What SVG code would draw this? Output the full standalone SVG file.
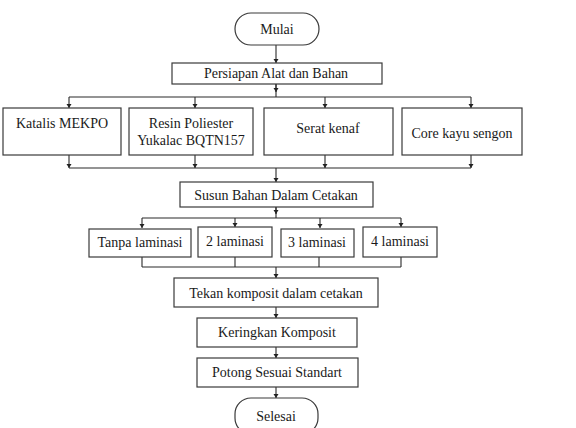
<svg xmlns="http://www.w3.org/2000/svg" width="576" height="428" viewBox="0 0 576 428">
<defs>
<marker id="ah" viewBox="0 0 8 10" refX="8" refY="5" markerWidth="4.5" markerHeight="5.5" orient="auto" markerUnits="userSpaceOnUse">
<path d="M0,0 L8,5 L0,10 z" fill="#222"/>
</marker>
<style>
.b{fill:#fff;stroke:#3a3a3a;stroke-width:1.2}
.t{font-family:"Liberation Serif","Times New Roman",serif;font-size:14px;fill:#1a1a1a;text-anchor:middle}
.c{fill:none;stroke:#2a2a2a;stroke-width:1.1}
.a{marker-end:url(#ah)}
</style>
</defs>
<rect width="576" height="428" fill="#fff"/>
<g id="connectors">
<path class="c a" d="M276,45 V63"/>
<path class="c" d="M276,84 V97"/>
<path class="c a" d="M276,84 V92"/>
<path class="c" d="M69,97 H471"/>
<path class="c a" d="M69,97 V108"/>
<path class="c a" d="M195,97 V108"/>
<path class="c a" d="M325,97 V108"/>
<path class="c a" d="M471,97 V108"/>
<path class="c a" d="M69,155 V168"/>
<path class="c a" d="M195,155 V168"/>
<path class="c a" d="M325,155 V168"/>
<path class="c a" d="M471,155 V168"/>
<path class="c" d="M69,168 H471"/>
<path class="c a" d="M276,168 V182"/>
<path class="c" d="M276,207 V218"/>
<path class="c a" d="M276,207 V214"/>
<path class="c" d="M142,218 H401"/>
<path class="c a" d="M142,218 V228"/>
<path class="c a" d="M235,218 V227"/>
<path class="c a" d="M320,218 V228"/>
<path class="c a" d="M401,218 V227"/>
<path class="c" d="M142,257 V267 M235,257 V267 M319,257 V267 M401,257 V267 M142,267 H401"/>
<path class="c a" d="M276,267 V278"/>
<path class="c a" d="M276,307 V318"/>
<path class="c a" d="M276,347 V358"/>
<path class="c a" d="M276,387 V398"/>
</g>
<g id="mulai">
<rect class="b" x="235" y="13" width="84" height="32" rx="16"/>
<text class="t" x="277" y="34">Mulai</text>
</g>
<g id="persiapan">
<rect class="b" x="172" y="63" width="210" height="21"/>
<text class="t" x="276" y="78">Persiapan Alat dan Bahan</text>
</g>
<g id="katalis">
<rect class="b" x="3" y="108" width="118" height="47"/>
<text class="t" x="62" y="128">Katalis MEKPO</text>
</g>
<g id="resin">
<rect class="b" x="129" y="108" width="124" height="47"/>
<text class="t" x="191" y="128">Resin Poliester</text>
<text class="t" x="191" y="145">Yukalac BQTN157</text>
</g>
<g id="serat">
<rect class="b" x="264" y="108" width="129" height="47"/>
<text class="t" x="328" y="133">Serat kenaf</text>
</g>
<g id="core">
<rect class="b" x="402" y="108" width="120" height="47"/>
<text class="t" x="462" y="138">Core kayu sengon</text>
</g>
<g id="susun">
<rect class="b" x="180" y="182" width="193" height="25"/>
<text class="t" x="276" y="200">Susun Bahan Dalam Cetakan</text>
</g>
<g id="tanpa">
<rect class="b" x="89" y="229" width="102" height="28"/>
<text class="t" x="140" y="247">Tanpa laminasi</text>
</g>
<g id="lam2">
<rect class="b" x="198" y="227" width="74" height="30"/>
<text class="t" x="235" y="246">2 laminasi</text>
</g>
<g id="lam3">
<rect class="b" x="281" y="229" width="73" height="28"/>
<text class="t" x="317" y="247">3 laminasi</text>
</g>
<g id="lam4">
<rect class="b" x="363" y="227" width="74" height="30"/>
<text class="t" x="400" y="246">4 laminasi</text>
</g>
<g id="tekan">
<rect class="b" x="174" y="278" width="204" height="29"/>
<text class="t" x="276" y="298">Tekan komposit dalam cetakan</text>
</g>
<g id="keringkan">
<rect class="b" x="197" y="318" width="160" height="29"/>
<text class="t" x="277" y="337">Keringkan Komposit</text>
</g>
<g id="potong">
<rect class="b" x="197" y="358" width="161" height="29"/>
<text class="t" x="277" y="377">Potong Sesuai Standart</text>
</g>
<g id="selesai">
<rect class="b" x="235" y="398" width="83" height="36" rx="16"/>
<text class="t" x="276" y="421">Selesai</text>
</g>
</svg>
